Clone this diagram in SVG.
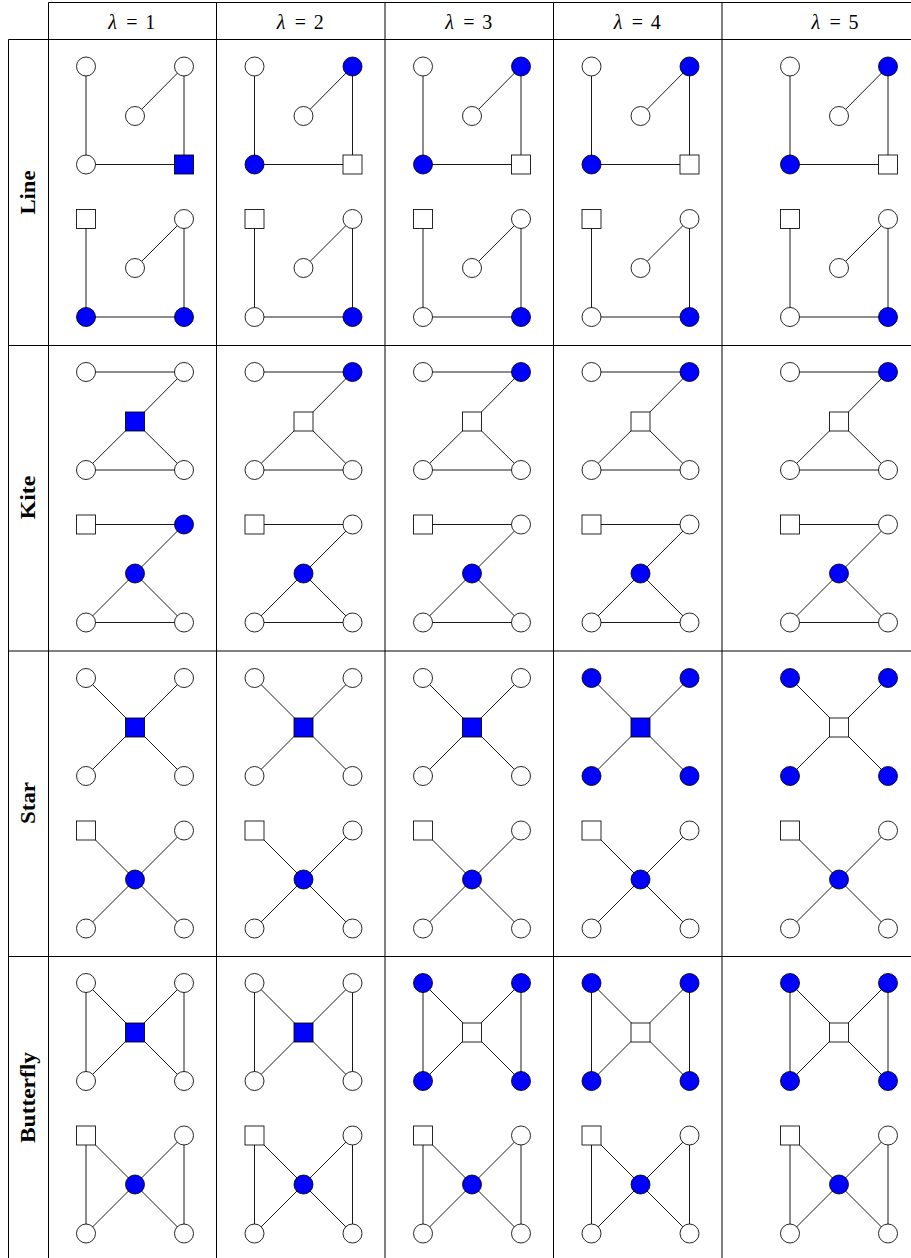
<svg xmlns="http://www.w3.org/2000/svg" width="911" height="1258" viewBox="0 0 911 1258">
<style>
.grid{stroke:#000;stroke-width:1;fill:none}
.e{stroke:#000;stroke-width:0.9;fill:none;stroke-linejoin:round}
.w{fill:#fff;stroke:#000;stroke-width:0.85}
.b{fill:#0000ff;stroke:#000;stroke-width:0.85}
.hd{font-family:"Liberation Serif",serif;font-size:20px;fill:#000}
.rl{font-family:"Liberation Serif",serif;font-size:20px;font-weight:bold;fill:#000}
</style>
<rect width="911" height="1258" fill="#fff"/>
<g id="table">
<path class="grid" d="M48.5 2.5H911M8.5 39.5H911M8.5 345.5H911M8.5 651H911M8.5 956.5H911M8.5 39.5V1258M48.5 2.5V1258M216.5 2.5V1258M385 2.5V1258M553.5 2.5V1258M722 2.5V1258"/>
</g>
<g id="headers">
<text class="hd" y="29"><tspan x="108.3" font-style="italic">λ</tspan><tspan x="126.2">=</tspan><tspan x="145.3">1</tspan></text>
<text class="hd" y="29"><tspan x="276.8" font-style="italic">λ</tspan><tspan x="294.7">=</tspan><tspan x="313.8">2</tspan></text>
<text class="hd" y="29"><tspan x="445.3" font-style="italic">λ</tspan><tspan x="463.2">=</tspan><tspan x="482.3">3</tspan></text>
<text class="hd" y="29"><tspan x="613.8" font-style="italic">λ</tspan><tspan x="631.7">=</tspan><tspan x="650.8">4</tspan></text>
<text class="hd" y="29"><tspan x="811.6" font-style="italic">λ</tspan><tspan x="829.5">=</tspan><tspan x="848.6">5</tspan></text>
</g>
<g id="row-labels">
<text class="rl" transform="translate(34.5 192.5) rotate(-90)" text-anchor="middle" textLength="44" lengthAdjust="spacingAndGlyphs">Line</text>
<text class="rl" transform="translate(34.5 497.5) rotate(-90)" text-anchor="middle" textLength="44" lengthAdjust="spacingAndGlyphs">Kite</text>
<text class="rl" transform="translate(34.5 803) rotate(-90)" text-anchor="middle" textLength="42" lengthAdjust="spacingAndGlyphs">Star</text>
<text class="rl" transform="translate(34.5 1097.5) rotate(-90)" text-anchor="middle" textLength="91" lengthAdjust="spacingAndGlyphs">Butterfly</text>
</g>
<g id="connectors">
<path class="e" d="M86 66.5V164.5H184V66.5L135 116M254.5 66.5V164.5H352.5V66.5L303.5 116M423 66.5V164.5H521V66.5L472 116M591.5 66.5V164.5H689.5V66.5L640.5 116M790 66.5V164.5H888V66.5L839 116"/>
<path class="e" d="M86 219V317H184V219L135 268M254.5 219V317H352.5V219L303.5 268M423 219V317H521V219L472 268M591.5 219V317H689.5V219L640.5 268M790 219V317H888V219L839 268"/>
<path class="e" d="M86 372H184L135 421.5L86 470H184L135 421.5M254.5 372H352.5L303.5 421.5L254.5 470H352.5L303.5 421.5M423 372H521L472 421.5L423 470H521L472 421.5M591.5 372H689.5L640.5 421.5L591.5 470H689.5L640.5 421.5M790 372H888L839 421.5L790 470H888L839 421.5"/>
<path class="e" d="M86 524.5H184L135 573.5L86 622.5H184L135 573.5M254.5 524.5H352.5L303.5 573.5L254.5 622.5H352.5L303.5 573.5M423 524.5H521L472 573.5L423 622.5H521L472 573.5M591.5 524.5H689.5L640.5 573.5L591.5 622.5H689.5L640.5 573.5M790 524.5H888L839 573.5L790 622.5H888L839 573.5"/>
<path class="e" d="M86 678L184 776M184 678L86 776M254.5 678L352.5 776M352.5 678L254.5 776M423 678L521 776M521 678L423 776M591.5 678L689.5 776M689.5 678L591.5 776M790 678L888 776M888 678L790 776"/>
<path class="e" d="M86 830.5L184 928.5M184 830.5L86 928.5M254.5 830.5L352.5 928.5M352.5 830.5L254.5 928.5M423 830.5L521 928.5M521 830.5L423 928.5M591.5 830.5L689.5 928.5M689.5 830.5L591.5 928.5M790 830.5L888 928.5M888 830.5L790 928.5"/>
<path class="e" d="M86 983V1081M184 983V1081M86 983L184 1081M184 983L86 1081M254.5 983V1081M352.5 983V1081M254.5 983L352.5 1081M352.5 983L254.5 1081M423 983V1081M521 983V1081M423 983L521 1081M521 983L423 1081M591.5 983V1081M689.5 983V1081M591.5 983L689.5 1081M689.5 983L591.5 1081M790 983V1081M888 983V1081M790 983L888 1081M888 983L790 1081"/>
<path class="e" d="M86 1135.5V1233.5M184 1135.5V1233.5M86 1135.5L184 1233.5M184 1135.5L86 1233.5M254.5 1135.5V1233.5M352.5 1135.5V1233.5M254.5 1135.5L352.5 1233.5M352.5 1135.5L254.5 1233.5M423 1135.5V1233.5M521 1135.5V1233.5M423 1135.5L521 1233.5M521 1135.5L423 1233.5M591.5 1135.5V1233.5M689.5 1135.5V1233.5M591.5 1135.5L689.5 1233.5M689.5 1135.5L591.5 1233.5M790 1135.5V1233.5M888 1135.5V1233.5M790 1135.5L888 1233.5M888 1135.5L790 1233.5"/>
</g>
<!-- Line row -->
<g id="line-1a"><circle id="line-1a-tl" class="w" cx="86" cy="66.5" r="9.5"/><circle id="line-1a-tr" class="w" cx="184" cy="66.5" r="9.5"/><circle id="line-1a-m" class="w" cx="135" cy="116" r="9.5"/><circle id="line-1a-bl" class="w" cx="86" cy="164.5" r="9.5"/><rect id="line-1a-br" class="b" x="174.5" y="155" width="19" height="19"/></g>
<g id="line-2a"><circle id="line-2a-tl" class="w" cx="254.5" cy="66.5" r="9.5"/><circle id="line-2a-tr" class="b" cx="352.5" cy="66.5" r="9.5"/><circle id="line-2a-m" class="w" cx="303.5" cy="116" r="9.5"/><circle id="line-2a-bl" class="b" cx="254.5" cy="164.5" r="9.5"/><rect id="line-2a-br" class="w" x="343" y="155" width="19" height="19"/></g>
<g id="line-3a"><circle id="line-3a-tl" class="w" cx="423" cy="66.5" r="9.5"/><circle id="line-3a-tr" class="b" cx="521" cy="66.5" r="9.5"/><circle id="line-3a-m" class="w" cx="472" cy="116" r="9.5"/><circle id="line-3a-bl" class="b" cx="423" cy="164.5" r="9.5"/><rect id="line-3a-br" class="w" x="511.5" y="155" width="19" height="19"/></g>
<g id="line-4a"><circle id="line-4a-tl" class="w" cx="591.5" cy="66.5" r="9.5"/><circle id="line-4a-tr" class="b" cx="689.5" cy="66.5" r="9.5"/><circle id="line-4a-m" class="w" cx="640.5" cy="116" r="9.5"/><circle id="line-4a-bl" class="b" cx="591.5" cy="164.5" r="9.5"/><rect id="line-4a-br" class="w" x="680" y="155" width="19" height="19"/></g>
<g id="line-5a"><circle id="line-5a-tl" class="w" cx="790" cy="66.5" r="9.5"/><circle id="line-5a-tr" class="b" cx="888" cy="66.5" r="9.5"/><circle id="line-5a-m" class="w" cx="839" cy="116" r="9.5"/><circle id="line-5a-bl" class="b" cx="790" cy="164.5" r="9.5"/><rect id="line-5a-br" class="w" x="878.5" y="155" width="19" height="19"/></g>
<g id="line-1b"><rect id="line-1b-tl" class="w" x="76.5" y="209.5" width="19" height="19"/><circle id="line-1b-tr" class="w" cx="184" cy="219" r="9.5"/><circle id="line-1b-m" class="w" cx="135" cy="268" r="9.5"/><circle id="line-1b-bl" class="b" cx="86" cy="317" r="9.5"/><circle id="line-1b-br" class="b" cx="184" cy="317" r="9.5"/></g>
<g id="line-2b"><rect id="line-2b-tl" class="w" x="245" y="209.5" width="19" height="19"/><circle id="line-2b-tr" class="w" cx="352.5" cy="219" r="9.5"/><circle id="line-2b-m" class="w" cx="303.5" cy="268" r="9.5"/><circle id="line-2b-bl" class="w" cx="254.5" cy="317" r="9.5"/><circle id="line-2b-br" class="b" cx="352.5" cy="317" r="9.5"/></g>
<g id="line-3b"><rect id="line-3b-tl" class="w" x="413.5" y="209.5" width="19" height="19"/><circle id="line-3b-tr" class="w" cx="521" cy="219" r="9.5"/><circle id="line-3b-m" class="w" cx="472" cy="268" r="9.5"/><circle id="line-3b-bl" class="w" cx="423" cy="317" r="9.5"/><circle id="line-3b-br" class="b" cx="521" cy="317" r="9.5"/></g>
<g id="line-4b"><rect id="line-4b-tl" class="w" x="582" y="209.5" width="19" height="19"/><circle id="line-4b-tr" class="w" cx="689.5" cy="219" r="9.5"/><circle id="line-4b-m" class="w" cx="640.5" cy="268" r="9.5"/><circle id="line-4b-bl" class="w" cx="591.5" cy="317" r="9.5"/><circle id="line-4b-br" class="b" cx="689.5" cy="317" r="9.5"/></g>
<g id="line-5b"><rect id="line-5b-tl" class="w" x="780.5" y="209.5" width="19" height="19"/><circle id="line-5b-tr" class="w" cx="888" cy="219" r="9.5"/><circle id="line-5b-m" class="w" cx="839" cy="268" r="9.5"/><circle id="line-5b-bl" class="w" cx="790" cy="317" r="9.5"/><circle id="line-5b-br" class="b" cx="888" cy="317" r="9.5"/></g>
<!-- Kite row -->
<g id="kite-1a"><circle id="kite-1a-tl" class="w" cx="86" cy="372" r="9.5"/><circle id="kite-1a-tr" class="w" cx="184" cy="372" r="9.5"/><rect id="kite-1a-m" class="b" x="125.5" y="412" width="19" height="19"/><circle id="kite-1a-bl" class="w" cx="86" cy="470" r="9.5"/><circle id="kite-1a-br" class="w" cx="184" cy="470" r="9.5"/></g>
<g id="kite-2a"><circle id="kite-2a-tl" class="w" cx="254.5" cy="372" r="9.5"/><circle id="kite-2a-tr" class="b" cx="352.5" cy="372" r="9.5"/><rect id="kite-2a-m" class="w" x="294" y="412" width="19" height="19"/><circle id="kite-2a-bl" class="w" cx="254.5" cy="470" r="9.5"/><circle id="kite-2a-br" class="w" cx="352.5" cy="470" r="9.5"/></g>
<g id="kite-3a"><circle id="kite-3a-tl" class="w" cx="423" cy="372" r="9.5"/><circle id="kite-3a-tr" class="b" cx="521" cy="372" r="9.5"/><rect id="kite-3a-m" class="w" x="462.5" y="412" width="19" height="19"/><circle id="kite-3a-bl" class="w" cx="423" cy="470" r="9.5"/><circle id="kite-3a-br" class="w" cx="521" cy="470" r="9.5"/></g>
<g id="kite-4a"><circle id="kite-4a-tl" class="w" cx="591.5" cy="372" r="9.5"/><circle id="kite-4a-tr" class="b" cx="689.5" cy="372" r="9.5"/><rect id="kite-4a-m" class="w" x="631" y="412" width="19" height="19"/><circle id="kite-4a-bl" class="w" cx="591.5" cy="470" r="9.5"/><circle id="kite-4a-br" class="w" cx="689.5" cy="470" r="9.5"/></g>
<g id="kite-5a"><circle id="kite-5a-tl" class="w" cx="790" cy="372" r="9.5"/><circle id="kite-5a-tr" class="b" cx="888" cy="372" r="9.5"/><rect id="kite-5a-m" class="w" x="829.5" y="412" width="19" height="19"/><circle id="kite-5a-bl" class="w" cx="790" cy="470" r="9.5"/><circle id="kite-5a-br" class="w" cx="888" cy="470" r="9.5"/></g>
<g id="kite-1b"><rect id="kite-1b-tl" class="w" x="76.5" y="515" width="19" height="19"/><circle id="kite-1b-tr" class="b" cx="184" cy="524.5" r="9.5"/><circle id="kite-1b-m" class="b" cx="135" cy="573.5" r="9.5"/><circle id="kite-1b-bl" class="w" cx="86" cy="622.5" r="9.5"/><circle id="kite-1b-br" class="w" cx="184" cy="622.5" r="9.5"/></g>
<g id="kite-2b"><rect id="kite-2b-tl" class="w" x="245" y="515" width="19" height="19"/><circle id="kite-2b-tr" class="w" cx="352.5" cy="524.5" r="9.5"/><circle id="kite-2b-m" class="b" cx="303.5" cy="573.5" r="9.5"/><circle id="kite-2b-bl" class="w" cx="254.5" cy="622.5" r="9.5"/><circle id="kite-2b-br" class="w" cx="352.5" cy="622.5" r="9.5"/></g>
<g id="kite-3b"><rect id="kite-3b-tl" class="w" x="413.5" y="515" width="19" height="19"/><circle id="kite-3b-tr" class="w" cx="521" cy="524.5" r="9.5"/><circle id="kite-3b-m" class="b" cx="472" cy="573.5" r="9.5"/><circle id="kite-3b-bl" class="w" cx="423" cy="622.5" r="9.5"/><circle id="kite-3b-br" class="w" cx="521" cy="622.5" r="9.5"/></g>
<g id="kite-4b"><rect id="kite-4b-tl" class="w" x="582" y="515" width="19" height="19"/><circle id="kite-4b-tr" class="w" cx="689.5" cy="524.5" r="9.5"/><circle id="kite-4b-m" class="b" cx="640.5" cy="573.5" r="9.5"/><circle id="kite-4b-bl" class="w" cx="591.5" cy="622.5" r="9.5"/><circle id="kite-4b-br" class="w" cx="689.5" cy="622.5" r="9.5"/></g>
<g id="kite-5b"><rect id="kite-5b-tl" class="w" x="780.5" y="515" width="19" height="19"/><circle id="kite-5b-tr" class="w" cx="888" cy="524.5" r="9.5"/><circle id="kite-5b-m" class="b" cx="839" cy="573.5" r="9.5"/><circle id="kite-5b-bl" class="w" cx="790" cy="622.5" r="9.5"/><circle id="kite-5b-br" class="w" cx="888" cy="622.5" r="9.5"/></g>
<!-- Star row -->
<g id="star-1a"><circle id="star-1a-tl" class="w" cx="86" cy="678" r="9.5"/><circle id="star-1a-tr" class="w" cx="184" cy="678" r="9.5"/><rect id="star-1a-m" class="b" x="125.5" y="718" width="19" height="19"/><circle id="star-1a-bl" class="w" cx="86" cy="776" r="9.5"/><circle id="star-1a-br" class="w" cx="184" cy="776" r="9.5"/></g>
<g id="star-2a"><circle id="star-2a-tl" class="w" cx="254.5" cy="678" r="9.5"/><circle id="star-2a-tr" class="w" cx="352.5" cy="678" r="9.5"/><rect id="star-2a-m" class="b" x="294" y="718" width="19" height="19"/><circle id="star-2a-bl" class="w" cx="254.5" cy="776" r="9.5"/><circle id="star-2a-br" class="w" cx="352.5" cy="776" r="9.5"/></g>
<g id="star-3a"><circle id="star-3a-tl" class="w" cx="423" cy="678" r="9.5"/><circle id="star-3a-tr" class="w" cx="521" cy="678" r="9.5"/><rect id="star-3a-m" class="b" x="462.5" y="718" width="19" height="19"/><circle id="star-3a-bl" class="w" cx="423" cy="776" r="9.5"/><circle id="star-3a-br" class="w" cx="521" cy="776" r="9.5"/></g>
<g id="star-4a"><circle id="star-4a-tl" class="b" cx="591.5" cy="678" r="9.5"/><circle id="star-4a-tr" class="b" cx="689.5" cy="678" r="9.5"/><rect id="star-4a-m" class="b" x="631" y="718" width="19" height="19"/><circle id="star-4a-bl" class="b" cx="591.5" cy="776" r="9.5"/><circle id="star-4a-br" class="b" cx="689.5" cy="776" r="9.5"/></g>
<g id="star-5a"><circle id="star-5a-tl" class="b" cx="790" cy="678" r="9.5"/><circle id="star-5a-tr" class="b" cx="888" cy="678" r="9.5"/><rect id="star-5a-m" class="w" x="829.5" y="718" width="19" height="19"/><circle id="star-5a-bl" class="b" cx="790" cy="776" r="9.5"/><circle id="star-5a-br" class="b" cx="888" cy="776" r="9.5"/></g>
<g id="star-1b"><rect id="star-1b-tl" class="w" x="76.5" y="821" width="19" height="19"/><circle id="star-1b-tr" class="w" cx="184" cy="830.5" r="9.5"/><circle id="star-1b-m" class="b" cx="135" cy="879.5" r="9.5"/><circle id="star-1b-bl" class="w" cx="86" cy="928.5" r="9.5"/><circle id="star-1b-br" class="w" cx="184" cy="928.5" r="9.5"/></g>
<g id="star-2b"><rect id="star-2b-tl" class="w" x="245" y="821" width="19" height="19"/><circle id="star-2b-tr" class="w" cx="352.5" cy="830.5" r="9.5"/><circle id="star-2b-m" class="b" cx="303.5" cy="879.5" r="9.5"/><circle id="star-2b-bl" class="w" cx="254.5" cy="928.5" r="9.5"/><circle id="star-2b-br" class="w" cx="352.5" cy="928.5" r="9.5"/></g>
<g id="star-3b"><rect id="star-3b-tl" class="w" x="413.5" y="821" width="19" height="19"/><circle id="star-3b-tr" class="w" cx="521" cy="830.5" r="9.5"/><circle id="star-3b-m" class="b" cx="472" cy="879.5" r="9.5"/><circle id="star-3b-bl" class="w" cx="423" cy="928.5" r="9.5"/><circle id="star-3b-br" class="w" cx="521" cy="928.5" r="9.5"/></g>
<g id="star-4b"><rect id="star-4b-tl" class="w" x="582" y="821" width="19" height="19"/><circle id="star-4b-tr" class="w" cx="689.5" cy="830.5" r="9.5"/><circle id="star-4b-m" class="b" cx="640.5" cy="879.5" r="9.5"/><circle id="star-4b-bl" class="w" cx="591.5" cy="928.5" r="9.5"/><circle id="star-4b-br" class="w" cx="689.5" cy="928.5" r="9.5"/></g>
<g id="star-5b"><rect id="star-5b-tl" class="w" x="780.5" y="821" width="19" height="19"/><circle id="star-5b-tr" class="w" cx="888" cy="830.5" r="9.5"/><circle id="star-5b-m" class="b" cx="839" cy="879.5" r="9.5"/><circle id="star-5b-bl" class="w" cx="790" cy="928.5" r="9.5"/><circle id="star-5b-br" class="w" cx="888" cy="928.5" r="9.5"/></g>
<!-- Butterfly row -->
<g id="bfly-1a"><circle id="bfly-1a-tl" class="w" cx="86" cy="983" r="9.5"/><circle id="bfly-1a-tr" class="w" cx="184" cy="983" r="9.5"/><rect id="bfly-1a-m" class="b" x="125.5" y="1023" width="19" height="19"/><circle id="bfly-1a-bl" class="w" cx="86" cy="1081" r="9.5"/><circle id="bfly-1a-br" class="w" cx="184" cy="1081" r="9.5"/></g>
<g id="bfly-2a"><circle id="bfly-2a-tl" class="w" cx="254.5" cy="983" r="9.5"/><circle id="bfly-2a-tr" class="w" cx="352.5" cy="983" r="9.5"/><rect id="bfly-2a-m" class="b" x="294" y="1023" width="19" height="19"/><circle id="bfly-2a-bl" class="w" cx="254.5" cy="1081" r="9.5"/><circle id="bfly-2a-br" class="w" cx="352.5" cy="1081" r="9.5"/></g>
<g id="bfly-3a"><circle id="bfly-3a-tl" class="b" cx="423" cy="983" r="9.5"/><circle id="bfly-3a-tr" class="b" cx="521" cy="983" r="9.5"/><rect id="bfly-3a-m" class="w" x="462.5" y="1023" width="19" height="19"/><circle id="bfly-3a-bl" class="b" cx="423" cy="1081" r="9.5"/><circle id="bfly-3a-br" class="b" cx="521" cy="1081" r="9.5"/></g>
<g id="bfly-4a"><circle id="bfly-4a-tl" class="b" cx="591.5" cy="983" r="9.5"/><circle id="bfly-4a-tr" class="b" cx="689.5" cy="983" r="9.5"/><rect id="bfly-4a-m" class="w" x="631" y="1023" width="19" height="19"/><circle id="bfly-4a-bl" class="b" cx="591.5" cy="1081" r="9.5"/><circle id="bfly-4a-br" class="b" cx="689.5" cy="1081" r="9.5"/></g>
<g id="bfly-5a"><circle id="bfly-5a-tl" class="b" cx="790" cy="983" r="9.5"/><circle id="bfly-5a-tr" class="b" cx="888" cy="983" r="9.5"/><rect id="bfly-5a-m" class="w" x="829.5" y="1023" width="19" height="19"/><circle id="bfly-5a-bl" class="b" cx="790" cy="1081" r="9.5"/><circle id="bfly-5a-br" class="b" cx="888" cy="1081" r="9.5"/></g>
<g id="bfly-1b"><rect id="bfly-1b-tl" class="w" x="76.5" y="1126" width="19" height="19"/><circle id="bfly-1b-tr" class="w" cx="184" cy="1135.5" r="9.5"/><circle id="bfly-1b-m" class="b" cx="135" cy="1184.5" r="9.5"/><circle id="bfly-1b-bl" class="w" cx="86" cy="1233.5" r="9.5"/><circle id="bfly-1b-br" class="w" cx="184" cy="1233.5" r="9.5"/></g>
<g id="bfly-2b"><rect id="bfly-2b-tl" class="w" x="245" y="1126" width="19" height="19"/><circle id="bfly-2b-tr" class="w" cx="352.5" cy="1135.5" r="9.5"/><circle id="bfly-2b-m" class="b" cx="303.5" cy="1184.5" r="9.5"/><circle id="bfly-2b-bl" class="w" cx="254.5" cy="1233.5" r="9.5"/><circle id="bfly-2b-br" class="w" cx="352.5" cy="1233.5" r="9.5"/></g>
<g id="bfly-3b"><rect id="bfly-3b-tl" class="w" x="413.5" y="1126" width="19" height="19"/><circle id="bfly-3b-tr" class="w" cx="521" cy="1135.5" r="9.5"/><circle id="bfly-3b-m" class="b" cx="472" cy="1184.5" r="9.5"/><circle id="bfly-3b-bl" class="w" cx="423" cy="1233.5" r="9.5"/><circle id="bfly-3b-br" class="w" cx="521" cy="1233.5" r="9.5"/></g>
<g id="bfly-4b"><rect id="bfly-4b-tl" class="w" x="582" y="1126" width="19" height="19"/><circle id="bfly-4b-tr" class="w" cx="689.5" cy="1135.5" r="9.5"/><circle id="bfly-4b-m" class="b" cx="640.5" cy="1184.5" r="9.5"/><circle id="bfly-4b-bl" class="w" cx="591.5" cy="1233.5" r="9.5"/><circle id="bfly-4b-br" class="w" cx="689.5" cy="1233.5" r="9.5"/></g>
<g id="bfly-5b"><rect id="bfly-5b-tl" class="w" x="780.5" y="1126" width="19" height="19"/><circle id="bfly-5b-tr" class="w" cx="888" cy="1135.5" r="9.5"/><circle id="bfly-5b-m" class="b" cx="839" cy="1184.5" r="9.5"/><circle id="bfly-5b-bl" class="w" cx="790" cy="1233.5" r="9.5"/><circle id="bfly-5b-br" class="w" cx="888" cy="1233.5" r="9.5"/></g>
</svg>
